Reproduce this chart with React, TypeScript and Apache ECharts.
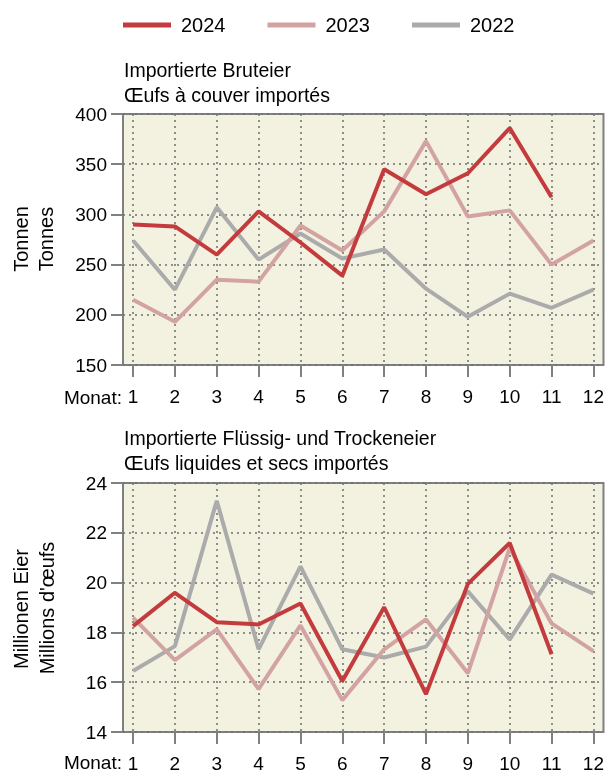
import React, { useEffect, useRef } from "react";
import * as echarts from "echarts";

// Months on the x axis
const months = [1, 2, 3, 4, 5, 6, 7, 8, 9, 10, 11, 12];
const yearNames = ["2024", "2023", "2022"];

// Imported hatching eggs, tonnes
const brut2024 = [290, 288, 260, 303, 272, 239, 345, 320, 341, 386, 317];
const brut2023 = [215, 193, 235, 233, 289, 264, 303, 373, 298, 304, 250, 274];
const brut2022 = [274, 225, 307, 255, 281, 256, 265, 226, 198, 221, 207, 225];

// Imported liquid and dried eggs, million eggs
const liq2024 = [18.25, 19.59, 18.41, 18.32, 19.16, 16.05, 19.01, 15.52, 19.95, 21.59, 17.12];
const liq2023 = [18.59, 16.89, 18.12, 15.72, 18.28, 15.28, 17.32, 18.52, 16.36, 21.39, 18.36, 17.25];
const liq2022 = [16.45, 17.45, 23.29, 17.32, 20.65, 17.32, 16.99, 17.43, 19.65, 17.72, 20.32, 19.56];

const topTicks = [150, 200, 250, 300, 350, 400];
const bottomTicks = [14, 16, 18, 20, 22, 24];

const COLORS: Record<string, string> = {
  "2024": "#c43b3e",
  "2023": "#d3a3a3",
  "2022": "#ababab",
};

const FONT = "'Liberation Sans', Arial, sans-serif";
const AXIS_GREY = "#808080";

const toPairs = (vals: number[]) => vals.map((v, i) => [months[i], v]);

function xAxisFor(gridIndex: number, labelMargin: number) {
  return {
    type: "value" as const,
    gridIndex,
    min: 0.76,
    max: 12.24,
    axisLine: { show: false },
    axisTick: {
      show: true,
      length: 12,
      customValues: months,
      lineStyle: { color: AXIS_GREY, width: 2 },
    },
    axisLabel: {
      customValues: months,
      margin: labelMargin,
      color: "#000",
      fontFamily: FONT,
      fontSize: 19,
    },
    splitLine: {
      show: true,
      lineStyle: { color: "#6e6e6e", width: 1.5, type: [2, 4] },
    },
  };
}

function yAxisFor(gridIndex: number, ticks: number[]) {
  return {
    type: "value" as const,
    gridIndex,
    min: ticks[0],
    max: ticks[ticks.length - 1],
    interval: ticks[1] - ticks[0],
    axisLine: { show: false },
    axisTick: {
      show: true,
      length: 12,
      lineStyle: { color: AXIS_GREY, width: 2 },
    },
    axisLabel: {
      margin: 16,
      color: "#000",
      fontFamily: FONT,
      fontSize: 19,
    },
    splitLine: {
      show: true,
      lineStyle: { color: "#6e6e6e", width: 1.5, type: [2, 4] },
    },
  };
}

function lineSeries(name: string, vals: number[], axisIndex: number) {
  return {
    type: "line" as const,
    name,
    xAxisIndex: axisIndex,
    yAxisIndex: axisIndex,
    data: toPairs(vals),
    symbol: "none",
    lineStyle: { color: COLORS[name], width: 4 },
    itemStyle: { color: COLORS[name] },
  };
}

function rotatedLabel(text: string, x: number, y: number) {
  return {
    type: "text" as const,
    x,
    y,
    rotation: Math.PI / 2,
    style: {
      text,
      fill: "#000",
      font: `20px ${FONT}`,
      align: "center",
      verticalAlign: "middle",
    },
  };
}

function plainLabel(text: string, x: number, y: number) {
  return {
    type: "text" as const,
    x,
    y,
    style: {
      text,
      fill: "#000",
      font: `19px ${FONT}`,
      align: "right",
      verticalAlign: "middle",
    },
  };
}

const titleText = { fontFamily: FONT, fontSize: 19.5, fontWeight: "normal" as const, color: "#000", lineHeight: 25 };

export default function App() {
  const ref = useRef<HTMLDivElement>(null);

  useEffect(() => {
    if (!ref.current) return;
    const chart = echarts.init(ref.current, null, { renderer: "svg" });
    const gridBase = {
      left: 123,
      width: 482,
      show: true,
      backgroundColor: "#f3f2e1",
      borderColor: AXIS_GREY,
      borderWidth: 2,
    };
    chart.setOption({
      animation: false,
      textStyle: { fontFamily: FONT },
      legend: {
        data: yearNames,
        left: 123,
        top: 15,
        padding: 0,
        icon: "rect",
        itemWidth: 48,
        itemHeight: 5,
        itemGap: 42,
        textStyle: { fontFamily: FONT, fontSize: 20, color: "#000", padding: [0, 0, 0, 5] },
      },
      title: [
        {
          text: "Importierte Bruteier\nŒufs à couver importés",
          left: 124,
          top: 57,
          padding: 0,
          textStyle: titleText,
        },
        {
          text: "Importierte Flüssig- und Trockeneier\nŒufs liquides et secs importés",
          left: 124,
          top: 425,
          padding: 0,
          textStyle: titleText,
        },
      ],
      grid: [
        { ...gridBase, top: 114, height: 251 },
        { ...gridBase, top: 483, height: 250 },
      ],
      xAxis: [xAxisFor(0, 22), xAxisFor(1, 22)],
      yAxis: [yAxisFor(0, topTicks), yAxisFor(1, bottomTicks)],
      series: [
        lineSeries("2022", brut2022, 0),
        lineSeries("2023", brut2023, 0),
        lineSeries("2024", brut2024, 0),
        lineSeries("2022", liq2022, 1),
        lineSeries("2023", liq2023, 1),
        lineSeries("2024", liq2024, 1),
      ],
      graphic: [
        rotatedLabel("Tonnen", 21, 239),
        rotatedLabel("Tonnes", 46, 239),
        rotatedLabel("Millionen Eier", 21, 609),
        rotatedLabel("Millions d'œufs", 47, 608),
        plainLabel("Monat:", 122, 397),
        plainLabel("Monat:", 122, 762),
      ],
    });
    return () => chart.dispose();
  }, []);

  return (
    <div
      ref={ref}
      style={{ position: "fixed", left: 0, top: 0, width: 607, height: 773 }}
    />
  );
}
